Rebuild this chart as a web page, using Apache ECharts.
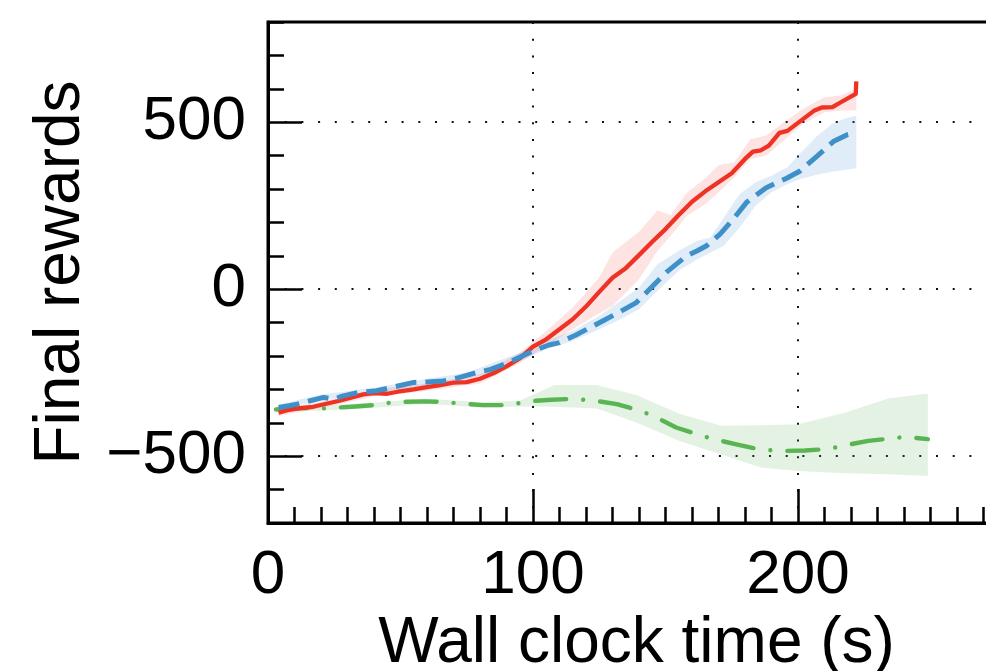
<!DOCTYPE html>
<html><head><meta charset="utf-8">
<script src="https://cdn.jsdelivr.net/npm/echarts@6/dist/echarts.min.js"></script>
<style>html,body{margin:0;padding:0;background:#fff}#c{width:986px;height:671px}</style>
</head><body><div id="c"></div>
<script>
const xTicks = [0, 100, 200];
const yTicks = [-500, 0, 500];

const redT = [4,8,12,17,22,27,32,36,40,45,49,55,60,65,70,75,80,85,90,95,100,105,110,115,120,125,130,135,140,145,150,155,160,165,170,175,180,183,186,189,193,196,201,206,209,213,216,221.8,222];
const redV = [-370,-361,-356,-352,-343,-334,-323,-315,-311,-313,-307,-300,-293,-287,-280,-278,-268,-252,-231,-207,-172,-150,-120,-90,-52,-8,34,63,102,142,180,222,262,293,320,347,390,412,416,430,468,474,504,534,544,545,559,585,622];
const redBandT = [4,20,40,60,80,95,105,115,125,130,140,147,152,158,165,170,176,182,188,195,202,210,216,222];
const redUpper = [-360,-336,-300,-282,-255,-190,-125,-55,35,110,172,236,222,288,332,371,380,449,460,502,540,575,580,600];
const redLower = [-380,-356,-321,-304,-282,-222,-170,-120,-72,-50,30,115,160,219,254,290,335,389,400,448,495,530,535,535];

const blueT = [4,8,11,16,21,25,28,34,41,49,55,60,66,72,79,84,89,95,100,106,110,116,121.5,127,133,139,144,150.5,158,162,165.5,170.6,175.6,180.6,188,195.7,200.8,207,213.3,218.4,222];
const blueV = [-354,-349,-344,-334,-324,-329,-320,-309,-304,-290,-279,-278,-275,-265,-249,-240,-225,-204,-185,-167,-160,-138,-115,-92,-67,-40,0,52,100,115,130,165,210,260,304,332,354,397,442,462,469];
const blueBandT = [4,20,40,60,75,85,95,105,115,125,133,140,147,155,162,167,172,178,184,190,196,201,207,213,218,222];
const blueUpper = [-345,-315,-295,-268,-250,-220,-190,-155,-125,-80,-35,5,75,115,145,155,215,285,320,340,365,408,457,496,512,519];
const blueLower = [-362,-332,-312,-288,-268,-250,-215,-180,-155,-120,-90,-60,-5,55,90,110,130,185,250,290,315,330,343,352,358,362];

const greenT = [3,8,15,21,33,40,46,52,59,64,71,81,89,95,101,107,113,119,125,131.6,137,143,149,154,160,166,172,178,184,189.4,196,202.6,208,214,220,226.5,232.5,238.5,244,249];
const greenV = [-360,-358,-356,-357,-351,-347,-340,-337,-336,-337,-341,-347,-347,-341,-334,-331,-329,-331,-336,-344,-356,-372,-394,-414,-429,-444,-456,-467,-477,-482,-484,-483,-480,-474,-464,-454,-449,-444,-445,-449];
const greenBandT = [3,20,40,60,80,95,108,124,139,155,171,186,200,218,234,249];
const greenUpper = [-352,-349,-339,-328,-338,-334,-287,-287,-317,-372,-409,-407,-404,-369,-327,-312];
const greenLower = [-366,-364,-355,-343,-354,-351,-352,-357,-399,-454,-495,-534,-544,-551,-554,-559];

const FONT = 'Liberation Sans';
const fmt = v => v < 0 ? '\u2212' + (-v) : String(v);

function band(name, t, up, lo, color, z) {
  return {
    type: 'custom', name: name, z: z, silent: true, clip: true,
    data: t.map((x, i) => [x, up[i], lo[i]]),
    encode: { x: 0, y: [1, 2] },
    renderItem: function (params, api) {
      if (params.dataIndex !== 0) return;
      const pts = [];
      for (let i = 0; i < t.length; i++) pts.push(api.coord([t[i], up[i]]));
      for (let i = t.length - 1; i >= 0; i--) pts.push(api.coord([t[i], lo[i]]));
      return { type: 'polygon', shape: { points: pts }, style: { fill: color } };
    }
  };
}
function line(name, t, v, color, width, type, cap, z) {
  return {
    type: 'line', name: name, z: z, showSymbol: false, symbol: 'none', silent: true,
    data: t.map((x, i) => [x, v[i]]),
    lineStyle: { color: color, width: width, type: type, cap: cap, join: 'round' },
    animation: false
  };
}

const chart = echarts.init(document.getElementById('c'), null, { renderer: 'canvas' });
chart.setOption({
  animation: false,
  backgroundColor: '#fff',
  grid: {
    left: 268, top: 22, width: 795, height: 501, containLabel: false, outerBoundsMode: 'none',
    show: true, borderColor: '#000', borderWidth: 3, backgroundColor: 'transparent'
  },
  xAxis: {
    type: 'value', min: 0, max: 300, interval: 100,
    axisLine: { show: true, onZero: false, lineStyle: { color: '#000', width: 3 } },
    axisTick: { show: true, inside: true, length: 34, lineStyle: { color: '#000', width: 2.5 } },
    minorTick: { show: true, splitNumber: 10, length: 16, lineStyle: { color: '#000', width: 2.5 } },
    axisLabel: { margin: 22, fontSize: 62, color: '#000', fontFamily: FONT, formatter: fmt,
      customValues: xTicks },
    splitLine: { show: true, lineStyle: { color: '#111', width: 2, type: [2, 14.7] } },
    name: 'Wall clock time (s)', nameLocation: 'middle', nameGap: 85,
    nameTextStyle: { fontSize: 64, color: '#000', fontFamily: FONT, padding: [0, 58, 0, 0] }
  },
  yAxis: [{
    type: 'value', min: -700, max: 800, interval: 100, position: 'left',
    axisLine: { show: true, onZero: false, lineStyle: { color: '#000', width: 3 } },
    axisTick: { show: true, inside: true, length: 16, lineStyle: { color: '#000', width: 2.5 } },
    axisLabel: { show: false },
    splitLine: { show: true, lineStyle: { color: ['transparent','transparent','#111','transparent','transparent'], width: 2, type: [2, 14.7] } },
    name: 'Final rewards', nameLocation: 'middle', nameGap: 175,
    nameTextStyle: { fontSize: 64, color: '#000', fontFamily: FONT }
  }, {
    type: 'value', min: -700, max: 800, interval: 100, position: 'left', offset: 0,
    axisLine: { show: false },
    axisTick: { show: true, inside: true, length: 34, customValues: yTicks, lineStyle: { color: '#000', width: 2.5 } },
    axisLabel: { show: true, margin: 22, fontSize: 62, color: '#000', fontFamily: FONT, formatter: fmt, customValues: yTicks },
    splitLine: { show: false }
  }],
  series: [
    band('redBand', redBandT, redUpper, redLower, 'rgba(240,60,50,0.14)', 1),
    band('blueBand', blueBandT, blueUpper, blueLower, 'rgba(70,145,215,0.17)', 1),
    band('greenBand', greenBandT, greenUpper, greenLower, 'rgba(90,175,80,0.16)', 1),
    line('green', greenT, greenV, '#58b552', 4.4, [31, 17, 0.01, 17], 'round', 3),
    line('red', redT, redV, '#ee3224', 4.3, 'solid', 'butt', 4),
    line('blue', blueT, blueV, '#3f8fc8', 5, [21, 9], 'butt', 5)
  ]
});
</script>
</body></html>
